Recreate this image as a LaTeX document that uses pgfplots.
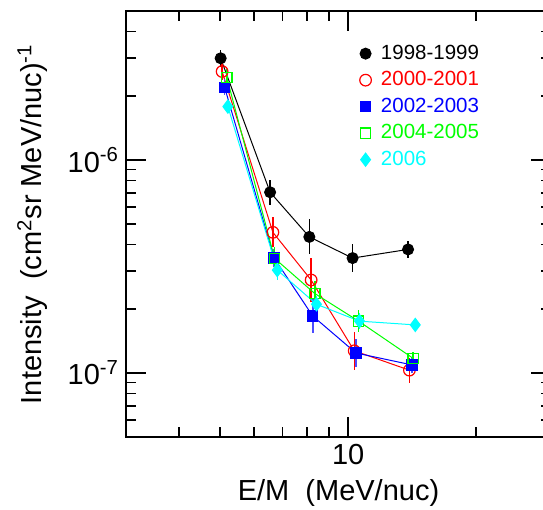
\documentclass[border=0pt]{standalone}
\usepackage{pgfplots}
\pgfplotsset{compat=1.18}
\usepackage{fontspec}
\setmainfont{Liberation Sans}
\definecolor{pcyan}{RGB}{0,255,255}
\definecolor{pgreen}{RGB}{0,255,0}

\begin{document}
\begin{tikzpicture}
\begin{axis}[
    xmode=log, ymode=log,
    scale only axis,
    width=212.5pt, height=213pt,
    xmin=3, xmax=30,
    ymin=5e-8, ymax=5e-6,
    xtick={10}, xticklabels={10},
    minor xtick={4,5,6,7,8,9,20,30},
    ytick={1e-7,1e-6},
    yticklabels={10\textsuperscript{-7},10\textsuperscript{-6}},
    minor ytick={6e-8,7e-8,8e-8,9e-8,2e-7,3e-7,4e-7,5e-7,6e-7,7e-7,8e-7,9e-7,2e-6,3e-6,4e-6},
    major tick length=10pt, minor tick length=5pt,
    every tick/.append style={black, line width=0.8pt},
    axis line style={black, line width=1pt},
    tick label style={font=\fontsize{14.5}{17}\selectfont},
    label style={font=\fontsize{14.5}{17}\selectfont},
    xlabel={E/M\ \ (MeV/nuc)},
    ylabel={Intensity\ \ (cm\textsuperscript{2}sr MeV/nuc)\textsuperscript{-1}},
    xlabel style={at={(axis description cs:0.5,-0.1315)}, anchor=center},
    ylabel style={at={(axis description cs:-0.22,0.5)}, anchor=center},
    legend style={draw=none, fill=none, at={(0.535,0.94)}, anchor=north west,
        font=\fontsize{10.25}{12}\selectfont, row sep=0.6pt},
    legend cell align=left,
    legend image code/.code={
        \path[draw=none, fill=none] (0cm,-0.05cm) rectangle (0.3cm,0.05cm);
        \draw[#1, only marks] plot coordinates {(0.1cm,0cm)};},
    error bars/y dir=both, error bars/y explicit,
    error bars/error mark=none,
]
% 1998-1999
\addplot[black, line width=0.5pt, mark=*, mark size=2.75pt,
    error bars/error bar style={line width=0.8pt, black}]
coordinates {
    (5.01,3.00e-6) += (0,0.29e-6) -= (0,0.26e-6)
    (6.55,7.05e-7) += (0,1.02e-7) -= (0,0.90e-7)
    (8.10,4.35e-7) += (0,0.91e-7) -= (0,0.75e-7)
    (10.24,3.46e-7) += (0,0.56e-7) -= (0,0.48e-7)
    (13.83,3.80e-7) += (0,0.38e-7) -= (0,0.34e-7)
};
\addlegendentry[text=black]{1998-1999}
% 2000-2001
\addplot[red, line width=0.5pt, mark=o, mark size=2.9pt,
    mark options={fill=white, line width=0.6pt},
    error bars/error bar style={line width=0.7pt, red}]
coordinates {
    (5.05,2.60e-6) += (0,0.24e-6) -= (0,0.22e-6)
    (6.65,4.57e-7) += (0,0.80e-7) -= (0,0.68e-7)
    (8.18,2.73e-7) += (0,0.72e-7) -= (0,0.57e-7)
    (10.33,1.27e-7) += (0,0.29e-7) -= (0,0.24e-7)
    (13.93,1.03e-7) += (0,0.15e-7) -= (0,0.13e-7)
};
\addlegendentry[text=red]{2000-2001}
% 2002-2003
\addplot[blue, line width=0.5pt, mark=square*, mark size=2.6pt,
    error bars/error bar style={line width=0.8pt, blue!70}]
coordinates {
    (5.12,2.19e-6) += (0,0.20e-6) -= (0,0.18e-6)
    (6.69,3.47e-7) += (0,0.35e-7) -= (0,0.32e-7)
    (8.25,1.85e-7) += (0,0.37e-7) -= (0,0.31e-7)
    (10.43,1.24e-7) += (0,0.20e-7) -= (0,0.17e-7)
    (14.13,1.09e-7) += (0,0.10e-7) -= (0,0.09e-7)
};
\addlegendentry[text=blue]{2002-2003}
% 2004-2005
\addplot[pgreen, line width=0.5pt, mark=square, mark size=2.6pt,
    mark options={line width=0.6pt},
    error bars/error bar style={line width=0.8pt, pgreen}]
coordinates {
    (5.18,2.44e-6) += (0,0.22e-6) -= (0,0.20e-6)
    (6.71,3.45e-7) += (0,0.44e-7) -= (0,0.39e-7)
    (8.34,2.36e-7) += (0,0.33e-7) -= (0,0.29e-7)
    (10.58,1.75e-7) += (0,0.22e-7) -= (0,0.20e-7)
    (14.22,1.17e-7) += (0,0.09e-7) -= (0,0.085e-7)
};
\addlegendentry[text=pgreen]{2004-2005}
% 2006
\addplot[pcyan, line width=0.5pt, mark=diamond*, mark size=3.3pt,
    error bars/error bar style={line width=0.8pt, pcyan}]
coordinates {
    (5.21,1.78e-6) += (0,0.12e-6) -= (0,0.11e-6)
    (6.81,3.04e-7) += (0,0.35e-7) -= (0,0.31e-7)
    (8.42,2.10e-7) += (0,0.19e-7) -= (0,0.17e-7)
    (10.63,1.75e-7) += (0,0.16e-7) -= (0,0.15e-7)
    (14.38,1.68e-7) += (0,0.07e-7) -= (0,0.07e-7)
};
\addlegendentry[text=pcyan]{2006}
\end{axis}
\pgfresetboundingbox
\path[use as bounding box] (-63pt,-36.5pt) rectangle (208.5pt,218.5pt);
\end{tikzpicture}
\end{document}
